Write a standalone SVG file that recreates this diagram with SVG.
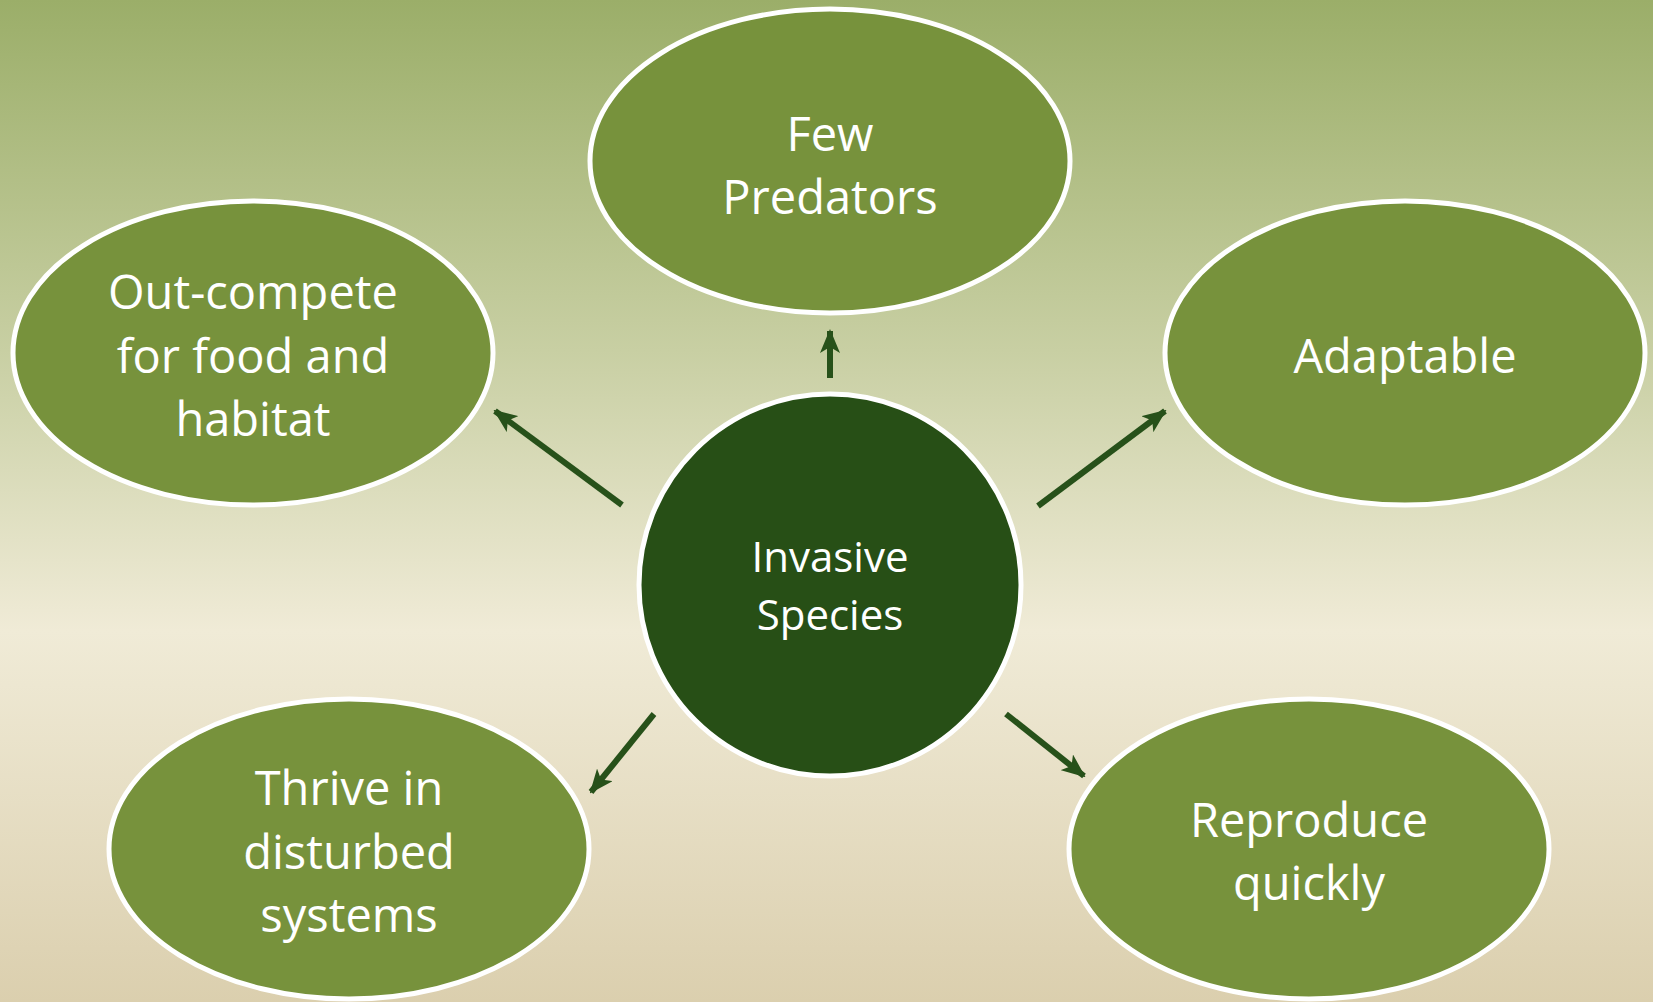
<svg xmlns="http://www.w3.org/2000/svg" width="1653" height="1002" viewBox="0 0 1653 1002">
  <defs>
    <linearGradient id="bg" x1="0" y1="0" x2="0" y2="1">
      <stop offset="0" stop-color="#9bae69"/>
      <stop offset="0.35" stop-color="#c8cfa3"/>
      <stop offset="0.63" stop-color="#f0ebd7"/>
      <stop offset="1" stop-color="#dbcfae"/>
    </linearGradient>
    <marker id="head" viewBox="0 0 24 20" refX="22" refY="10" markerWidth="24" markerHeight="20" markerUnits="userSpaceOnUse" orient="auto">
      <path d="M0,0 L24,10 L0,20 L6,10 Z" fill="#27511a"/>
    </marker>
    <style>
      .node { fill: #77923c; stroke: #ffffff; stroke-width: 5; }
      .hub { fill: #274f16; stroke: #ffffff; stroke-width: 5; }
      .label { font-family: "Open Sans", "Liberation Sans", sans-serif; font-size: 47px; fill: #ffffff; text-anchor: middle; }
      .hub-label { font-size: 42px; }
      .link { stroke: #27511a; stroke-width: 6; fill: none; marker-end: url(#head); }
    </style>
  </defs>

  <rect x="0" y="0" width="1653" height="1002" fill="url(#bg)"/>

  <g id="connectors">
    <line class="link" x1="830" y1="378" x2="830" y2="331"/>
    <line class="link" x1="622" y1="505" x2="495" y2="411"/>
    <line class="link" x1="1038" y1="506" x2="1165" y2="411"/>
    <line class="link" x1="654" y1="714" x2="591" y2="792"/>
    <line class="link" x1="1006" y1="714" x2="1084" y2="776"/>
  </g>

  <g id="few-predators">
    <ellipse class="node" cx="830" cy="161" rx="240" ry="152"/>
    <text class="label" x="830" y="151">Few</text>
    <text class="label" x="830" y="214">Predators</text>
  </g>

  <g id="out-compete">
    <ellipse class="node" cx="253" cy="353" rx="240" ry="152"/>
    <text class="label" x="253" y="309">Out-compete</text>
    <text class="label" x="253" y="373">for food and</text>
    <text class="label" x="253" y="436">habitat</text>
  </g>

  <g id="adaptable">
    <ellipse class="node" cx="1405" cy="353" rx="240" ry="152"/>
    <text class="label" x="1405" y="373">Adaptable</text>
  </g>

  <g id="invasive-species">
    <ellipse class="hub" cx="830" cy="585" rx="191" ry="191"/>
    <text class="label hub-label" x="830" y="572">Invasive</text>
    <text class="label hub-label" x="830" y="630">Species</text>
  </g>

  <g id="thrive">
    <ellipse class="node" cx="349" cy="849" rx="240" ry="150"/>
    <text class="label" x="349" y="805">Thrive in</text>
    <text class="label" x="349" y="869">disturbed</text>
    <text class="label" x="349" y="932">systems</text>
  </g>

  <g id="reproduce">
    <ellipse class="node" cx="1309" cy="849" rx="240" ry="150"/>
    <text class="label" x="1309" y="837">Reproduce</text>
    <text class="label" x="1309" y="900">quickly</text>
  </g>
</svg>
